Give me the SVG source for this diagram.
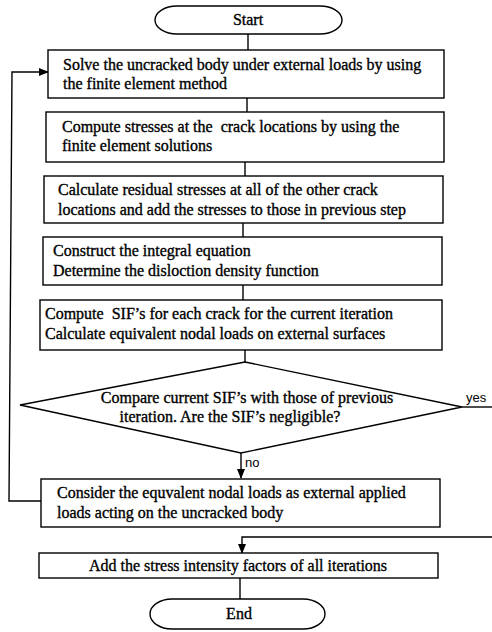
<svg xmlns="http://www.w3.org/2000/svg" width="492" height="632" viewBox="0 0 492 632">
<defs>
<marker id="arr" markerWidth="10" markerHeight="8" refX="9" refY="4" orient="auto" markerUnits="userSpaceOnUse">
<path d="M0,0 L10,4 L0,8 Z" fill="#000"/>
</marker>
</defs>
<style>
.box{fill:#fff;stroke:#000;stroke-width:1.4}
.t{font-family:"Liberation Serif","Times New Roman",serif;font-size:16px;fill:#000;stroke:#000;stroke-width:0.35;white-space:pre}
.s{font-family:"Liberation Sans",Arial,sans-serif;font-size:13px;fill:#000}
.c{fill:none;stroke:#000;stroke-width:1.4}
</style>
<rect width="492" height="632" fill="#fff"/>
<g id="connectors">
<line class="c" x1="248" y1="34" x2="248" y2="50"/>
<line class="c" x1="247" y1="98" x2="247" y2="112"/>
<line class="c" x1="245" y1="162" x2="245" y2="176"/>
<line class="c" x1="243" y1="223" x2="243" y2="237"/>
<line class="c" x1="243" y1="285" x2="243" y2="300"/>
<line class="c" x1="245" y1="350" x2="245" y2="362"/>
<line class="c" x1="241" y1="453" x2="241" y2="478" marker-end="url(#arr)"/>
<text class="s" x="245" y="467">no</text>
<polyline class="c" points="41,501 9,501 12,72 48,72" marker-end="url(#arr)"/>
<line class="c" x1="462" y1="407" x2="492" y2="407"/>
<text class="s" x="466" y="402">yes</text>
<polyline class="c" points="492,537 242,537 242,553" marker-end="url(#arr)"/>
<line class="c" x1="240" y1="578" x2="240" y2="599"/>
</g>
<g id="start">
<rect class="box" x="155" y="6" width="187" height="28" rx="22" ry="14"/>
<text class="t" x="248" y="25" text-anchor="middle">Start</text>
</g>
<g id="solve">
<rect class="box" x="48" y="50" width="396" height="48"/>
<text class="t" x="63" y="70">Solve the uncracked body under external loads by using</text>
<text class="t" x="63" y="89">the finite element method</text>
</g>
<g id="compute-stresses">
<rect class="box" x="46" y="112" width="398" height="50"/>
<text class="t" x="62" y="132">Compute stresses at the  crack locations by using the</text>
<text class="t" x="62" y="151">finite element solutions</text>
</g>
<g id="residual">
<rect class="box" x="44" y="176" width="399" height="47"/>
<text class="t" x="58" y="195">Calculate residual stresses at all of the other crack</text>
<text class="t" x="58" y="215">locations and add the stresses to those in previous step</text>
</g>
<g id="integral">
<rect class="box" x="43" y="237" width="399" height="48"/>
<text class="t" x="53" y="256">Construct the integral equation</text>
<text class="t" x="53" y="276">Determine the disloction density function</text>
</g>
<g id="sif">
<rect class="box" x="40" y="300" width="402" height="50"/>
<text class="t" x="45" y="319">Compute  SIF’s for each crack for the current iteration</text>
<text class="t" x="45" y="339">Calculate equivalent nodal loads on external surfaces</text>
</g>
<g id="compare">
<polygon class="box" points="245,362 462,407 241,453 20,405"/>
<text class="t" x="247" y="403" text-anchor="middle">Compare current SIF’s with those of previous</text>
<text class="t" x="230" y="422" text-anchor="middle">iteration. Are the SIF’s negligible?</text>
</g>
<g id="consider">
<rect class="box" x="41" y="479" width="399" height="48"/>
<text class="t" x="57" y="498">Consider the equvalent nodal loads as external applied</text>
<text class="t" x="57" y="518">loads acting on the uncracked body</text>
</g>
<g id="add">
<rect class="box" x="39" y="553" width="399" height="25"/>
<text class="t" x="238" y="571" text-anchor="middle">Add the stress intensity factors of all iterations</text>
</g>
<g id="end">
<rect class="box" x="150" y="599" width="175" height="30" rx="22" ry="15"/>
<text class="t" x="239" y="619" text-anchor="middle">End</text>
</g>
</svg>
